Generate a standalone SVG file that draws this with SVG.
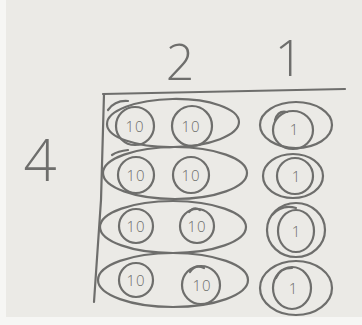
<svg xmlns="http://www.w3.org/2000/svg" width="362" height="325" viewBox="0 0 362 325">
<style>
.s{fill:none;stroke:#6e6e6c;stroke-width:2.2;stroke-linecap:round}
.t{font-family:"Open Sans","Liberation Sans",sans-serif;fill:#6e6e6c;font-weight:300;text-anchor:middle}
.ten{font-size:15px;letter-spacing:1px}
.one{font-size:15px}
.big{font-size:50px}
</style>
<rect width="362" height="325" fill="#ebeae6"/>
<rect x="0" y="0" width="6" height="325" fill="#f6f6f4"/>
<rect x="0" y="317" width="362" height="8" fill="#f6f6f4"/>
<g id="labels">
<text class="t big" x="180" y="80">2</text>
<text class="t big" x="289" y="76">1</text>
<text class="t big" x="40" y="181" style="font-size:58px">4</text>
</g>
<g id="connectors">
<path class="s" d="M103 94 L345 89"/>
<path class="s" d="M104 94 L101 200 L94 302"/>
</g>
<g id="row1-tens">
<ellipse class="s" cx="173" cy="123" rx="66" ry="24" transform="rotate(-1 173 123)"/>
<path class="s" d="M108 110 Q115 100 128 101"/>
<circle class="s" cx="135" cy="126" r="19"/>
<circle class="s" cx="192" cy="126" r="20"/>
<text class="t ten" x="135" y="132">10</text>
<text class="t ten" x="191" y="132">10</text>
</g>
<g id="row1-one">
<ellipse class="s" cx="296" cy="125" rx="36" ry="23"/>
<ellipse class="s" cx="293" cy="130" rx="20" ry="19"/>
<path class="s" d="M275 120 Q278 110 287 112"/>
<text class="t one" x="294" y="135">1</text>
</g>
<g id="row2-tens">
<ellipse class="s" cx="175" cy="173" rx="72" ry="26"/>
<path class="s" d="M112 155 Q118 151 128 150"/>
<circle class="s" cx="136" cy="175" r="18"/>
<circle class="s" cx="191" cy="175" r="18"/>
<text class="t ten" x="136" y="181">10</text>
<text class="t ten" x="191" y="181">10</text>
</g>
<g id="row2-one">
<ellipse class="s" cx="293" cy="176" rx="30" ry="22"/>
<circle class="s" cx="295" cy="176" r="18"/>
<text class="t one" x="296" y="182">1</text>
</g>
<g id="row3-tens">
<ellipse class="s" cx="173" cy="227" rx="73" ry="26"/>
<circle class="s" cx="136" cy="226" rx="17" r="17"/>
<circle class="s" cx="197" cy="226" r="17"/>
<path class="s" d="M189 212 Q194 206 200 210"/>
<text class="t ten" x="136" y="232">10</text>
<text class="t ten" x="197" y="232">10</text>
</g>
<g id="row3-one">
<ellipse class="s" cx="296" cy="230" rx="29" ry="27"/>
<ellipse class="s" cx="296" cy="231" rx="18" ry="21"/>
<path class="s" d="M272 215 Q282 204 296 208"/>
<text class="t one" x="296" y="237">1</text>
</g>
<g id="row4-tens">
<ellipse class="s" cx="173" cy="280" rx="75" ry="27"/>
<circle class="s" cx="136" cy="280" r="17"/>
<circle class="s" cx="201" cy="285" r="19"/>
<path class="s" d="M190 272 Q195 264 204 268"/>
<text class="t ten" x="136" y="286">10</text>
<text class="t ten" x="202" y="291">10</text>
</g>
<g id="row4-one">
<ellipse class="s" cx="296" cy="288" rx="36" ry="27"/>
<ellipse class="s" cx="292" cy="288" rx="19" ry="21"/>
<path class="s" d="M276 278 Q280 268 292 268"/>
<text class="t one" x="293" y="294">1</text>
</g>
</svg>
